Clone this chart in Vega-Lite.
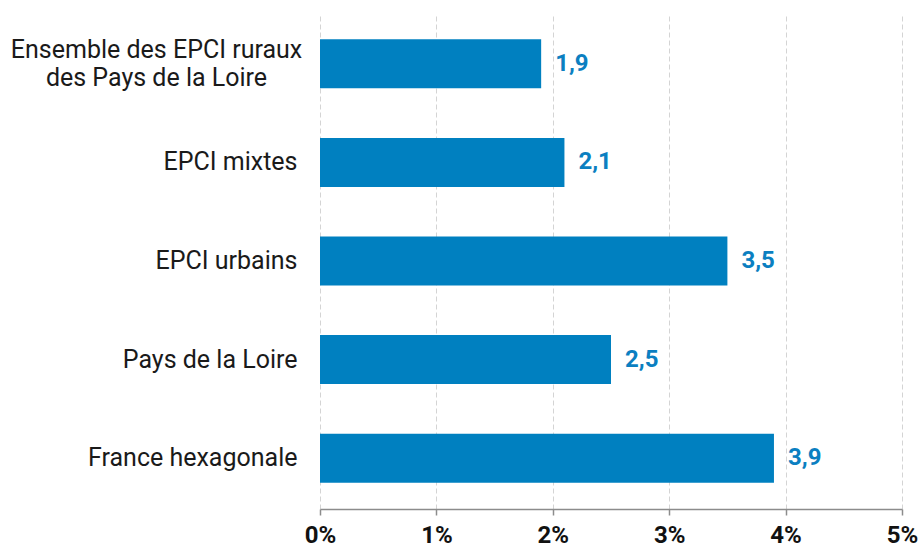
{
  "$schema": "https://vega.github.io/schema/vega-lite/v6.json",
  "width": 582,
  "height": 496,
  "autosize": "none",
  "padding": {"left": 320, "top": 13, "right": 17, "bottom": 38},
  "config": {
    "view": {"stroke": null},
    "locale": {"number": {"decimal": ",", "thousands": " ", "grouping": [3], "currency": ["", " €"]}}
  },
  "data": {
    "values": [
      {"territoire": "Ensemble des EPCI ruraux des Pays de la Loire", "valeur": 1.9},
      {"territoire": "EPCI mixtes", "valeur": 2.1},
      {"territoire": "EPCI urbains", "valeur": 3.5},
      {"territoire": "Pays de la Loire", "valeur": 2.5},
      {"territoire": "France hexagonale", "valeur": 3.9}
    ]
  },
  "encoding": {
    "y": {
      "field": "territoire",
      "type": "nominal",
      "sort": null,
      "scale": {"paddingInner": 0.503, "paddingOuter": 0.267, "align": 0.5},
      "axis": {
        "title": null,
        "domain": false,
        "ticks": false,
        "labelFont": "Roboto",
        "labelFontSize": 25,
        "labelColor": "#1a1a1a",
        "labelLimit": 400,
        "labelLineHeight": 28,
        "labelExpr": "datum.value == 'Ensemble des EPCI ruraux des Pays de la Loire' ? ['Ensemble des EPCI ruraux', 'des Pays de la Loire'] : datum.value",
        "labelAlign": {"condition": {"test": "datum.value == 'Ensemble des EPCI ruraux des Pays de la Loire'", "value": "center"}, "value": "right"},
        "labelPadding": {"condition": {"test": "datum.value == 'Ensemble des EPCI ruraux des Pays de la Loire'", "value": 164}, "value": 23},
        "labelOffset": {"condition": {"test": "datum.value == 'Ensemble des EPCI ruraux des Pays de la Loire'", "value": -14}, "value": 0}
      }
    }
  },
  "layer": [
    {
      "mark": {"type": "bar", "color": "#0080C0"},
      "encoding": {
        "x": {
          "field": "valeur",
          "type": "quantitative",
          "scale": {"domain": [0, 5], "nice": false},
          "axis": {
            "title": null,
            "values": [0, 1, 2, 3, 4, 5],
            "labelExpr": "datum.value + '%'",
            "labelFlush": false,
            "labelFont": "Roboto",
            "labelFontWeight": "bold",
            "labelFontSize": 24,
            "labelColor": "#111111",
            "labelPadding": 8,
            "domainColor": "#8c8c8c",
            "domainWidth": 1.5,
            "tickColor": "#8c8c8c",
            "tickWidth": 1.5,
            "tickSize": 6,
            "grid": true,
            "gridColor": "#d4d4d4",
            "gridDash": [5, 3],
            "gridWidth": 1
          }
        }
      }
    },
    {
      "mark": {"type": "text", "align": "left", "baseline": "middle", "dx": 14, "font": "Roboto", "fontWeight": "bold", "fontSize": 24, "color": "#0B7FC1"},
      "encoding": {
        "x": {"field": "valeur", "type": "quantitative"},
        "text": {"field": "valeur", "type": "quantitative", "format": ".1f"}
      }
    }
  ]
}
